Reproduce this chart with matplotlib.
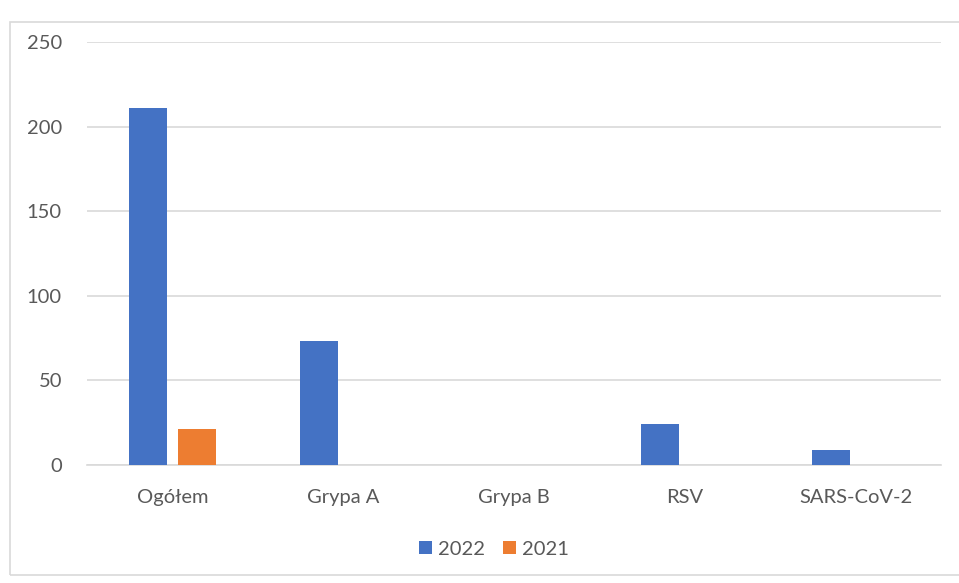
import matplotlib
matplotlib.use("Agg")
import matplotlib.pyplot as plt
import numpy as np
from matplotlib.patches import Rectangle

categories = ["Ogółem", "Grypa A", "Grypa B", "RSV", "SARS-CoV-2"]
series_names = ["2022", "2021"]
values_2022 = [211, 73, 0, 24, 9]
values_2021 = [21, 0, 0, 0, 0]
y_ticks = [0, 50, 100, 150, 200, 250]

colors = ["#4472C4", "#ED7D31"]
text_color = "#595959"
plt.rcParams["font.family"] = ["Lato", "DejaVu Sans"]

fig = plt.figure(figsize=(9.59, 5.83), dpi=100)
ax = fig.add_axes([0.0907, 0.2024, 0.8905, 0.7256])

x = np.arange(len(categories))
bw = 0.222
gap = 0.064
off = (bw + gap) / 2
ax.bar(x - off, values_2022, width=bw, color=colors[0], label=series_names[0], zorder=3)
ax.bar(x + off, values_2021, width=bw, color=colors[1], label=series_names[1], zorder=3)

ax.set_xlim(-0.5, len(categories) - 0.5)
ax.set_ylim(0, 250)
ax.set_yticks(y_ticks)
ax.set_yticklabels([str(v) for v in y_ticks])
ax.set_xticks(x)
ax.set_xticklabels(categories)
ax.grid(axis="y", color="#D9D9D9", linewidth=1.2, zorder=0)
for s in ["top", "right", "left"]:
    ax.spines[s].set_visible(False)
ax.spines["bottom"].set_color("#D9D9D9")
ax.spines["bottom"].set_linewidth(1.2)
ax.tick_params(axis="both", length=0, labelsize=14.5, colors=text_color)
ax.tick_params(axis="y", pad=18)
ax.tick_params(axis="x", pad=17)

leg = fig.legend(loc="center", bbox_to_anchor=(0.515, 0.058), ncol=2, frameon=False,
                 fontsize=14.5, handlelength=0.65, handleheight=0.65, handletextpad=0.3,
                 columnspacing=0.9)
for t in leg.get_texts():
    t.set_color(text_color)

fig.patches.append(Rectangle((10 / 959, 8 / 583), 1.2, 1 - 30 / 583, transform=fig.transFigure,
                             fill=False, edgecolor="#D9D9D9", linewidth=1.2))

fig.savefig("out.png", dpi=100)
